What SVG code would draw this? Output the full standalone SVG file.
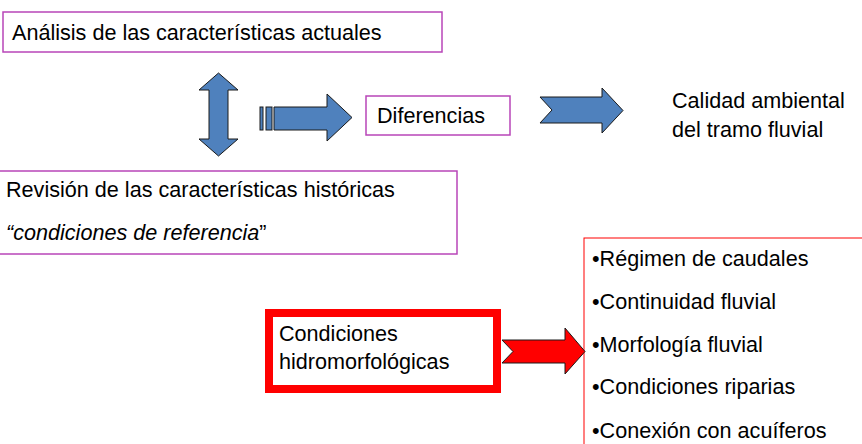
<svg xmlns="http://www.w3.org/2000/svg" width="862" height="444" viewBox="0 0 862 444">
<style>
text{font-family:"Liberation Sans",Arial,sans-serif;font-size:21.6px;fill:#000}
.pbox{fill:#fff;stroke:#B845B8;stroke-width:1.5}
.blue{fill:#4F81BD;stroke:#1a1a1a;stroke-width:1}
.red{fill:#FF0000;stroke:#1a1a1a;stroke-width:1}
</style>
<rect width="862" height="444" fill="#fff"/>
<g id="analisis">
<rect class="pbox" x="3" y="12" width="439" height="40"/>
<text x="12" y="40">Análisis de las características actuales</text>
</g>
<g id="revision">
<rect class="pbox" x="-2" y="171" width="459" height="83"/>
<text x="6" y="197">Revisión de las características históricas</text>
<text x="6" y="240"><tspan font-style="italic">“condiciones de referencia</tspan>”</text>
</g>
<g id="diferencias">
<rect class="pbox" x="366" y="96" width="144" height="39"/>
<text x="377" y="123">Diferencias</text>
</g>
<g id="calidad">
<text x="672" y="108">Calidad ambiental</text>
<text x="672" y="137">del tramo fluvial</text>
</g>
<g id="condiciones">
<rect x="269" y="313" width="228" height="76" fill="#fff" stroke="#FF0000" stroke-width="8"/>
<text x="279" y="341">Condiciones</text>
<text x="279" y="369">hidromorfológicas</text>
</g>
<g id="lista">
<rect x="584" y="238" width="290" height="220" fill="#fff" stroke="#FF0000" stroke-width="1"/>
<text x="592" y="266">•Régimen de caudales</text>
<text x="592" y="309">•Continuidad fluvial</text>
<text x="592" y="352">•Morfología fluvial</text>
<text x="592" y="394">•Condiciones riparias</text>
<text x="592" y="438">•Conexión con acuíferos</text>
</g>
<g id="connectors">
<polygon class="blue" points="218.5,73 238,90 228,90 228,139 238,139 218.5,156 199,139 209,139 209,90 199,90"/>
<rect class="blue" x="260" y="107" width="3" height="23"/>
<rect class="blue" x="266" y="107" width="6" height="23"/>
<polygon class="blue" points="274,107 327,107 327,94 352,117.5 327,141 327,130 274,130"/>
<polygon class="blue" points="540,97 602,97 602,88 623,110.5 602,133 602,123 540,123 552,110"/>
<polygon class="red" points="502,340 565,340 565,328 585,351.5 565,374 565,363 502,363 513,351.5"/>
</g>
</svg>
